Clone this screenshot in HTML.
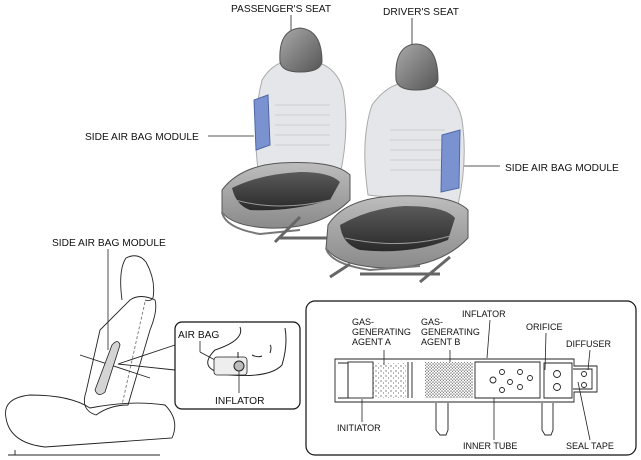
<!DOCTYPE html>
<html><head><style>
html,body{margin:0;padding:0;background:#fff;}
svg{display:block}
text{font-family:"Liberation Sans",sans-serif;font-size:10.2px;fill:#111}
text.s{font-size:9px}
</style></head><body>
<svg width="641" height="460" viewBox="0 0 641 460" xmlns="http://www.w3.org/2000/svg">
<defs>
<linearGradient id="dk" x1="0" y1="0" x2="0" y2="1"><stop offset="0" stop-color="#5a5a5a"/><stop offset="1" stop-color="#2a2a2a"/></linearGradient>
<linearGradient id="lt" x1="0" y1="0" x2="0" y2="1"><stop offset="0" stop-color="#bdbdbd"/><stop offset="1" stop-color="#8a8a8a"/></linearGradient>
<linearGradient id="hr" x1="0" y1="0" x2="1" y2="1"><stop offset="0" stop-color="#aaa"/><stop offset="1" stop-color="#555"/></linearGradient>
<pattern id="dots" width="5" height="5" patternUnits="userSpaceOnUse"><circle cx="1" cy="1" r=".6" fill="#333"/><circle cx="3.5" cy="3" r=".5" fill="#333"/></pattern>
<pattern id="dots2" width="3" height="3" patternUnits="userSpaceOnUse"><circle cx="1" cy="1" r=".6" fill="#222"/><circle cx="2.4" cy="2.2" r=".5" fill="#222"/></pattern>
</defs>
<text x="231" y="12">PASSENGER'S SEAT</text>
<line x1="291" y1="15" x2="291" y2="33" stroke="#222" stroke-width=".8"/>
<text x="383" y="15">DRIVER'S SEAT</text>
<line x1="412" y1="18" x2="412" y2="48" stroke="#222" stroke-width=".8"/>
<text x="85" y="140">SIDE AIR BAG MODULE</text>
<line x1="208" y1="136" x2="254" y2="136" stroke="#222" stroke-width=".8"/>
<text x="505" y="171">SIDE AIR BAG MODULE</text>
<line x1="460" y1="166" x2="500" y2="166" stroke="#222" stroke-width=".8"/>

<path d="M258 170 Q252 120 262 80 Q275 58 300 60 Q335 60 343 90 Q350 130 340 175 Z" fill="#e4e6ea" stroke="#aaa"/>
<g stroke="#c4c4c4" stroke-width=".7"><line x1="275" y1="105" x2="330" y2="105"/><line x1="275" y1="115" x2="330" y2="115"/><line x1="275" y1="125" x2="330" y2="125"/><line x1="275" y1="135" x2="330" y2="135"/><line x1="275" y1="145" x2="330" y2="145"/></g>
<path d="M280 62 Q278 30 300 28 Q322 30 322 62 Q320 72 300 72 Q282 72 280 62Z" fill="url(#hr)" stroke="#555"/>
<path d="M254 100 L268 95 L270 145 L256 150 Z" fill="#7a92cf" stroke="#4e67a8"/>
<path d="M222 190 Q240 166 280 163 Q335 160 350 175 L350 200 Q320 230 268 228 Q232 226 222 212 Z" fill="url(#lt)" stroke="#555"/>
<path d="M232 188 Q260 174 300 172 Q330 172 340 182 L330 200 Q290 212 250 210 Q236 205 232 188Z" fill="url(#dk)"/>
<path d="M235 200 Q280 212 330 200" stroke="#999" fill="none"/>
<path d="M222 212 Q225 228 260 234 L300 230" stroke="#777" fill="none" stroke-width="2"/>
<path d="M275 242 L300 217 M280 238 L330 238" stroke="#666" stroke-width="3"/>

<path d="M368 195 Q360 140 372 105 Q390 80 415 82 Q455 85 462 120 Q468 160 458 205 Z" fill="#e4e6ea" stroke="#aaa"/>
<g stroke="#c4c4c4" stroke-width=".7"><line x1="390" y1="130" x2="445" y2="130"/><line x1="390" y1="140" x2="445" y2="140"/><line x1="390" y1="150" x2="445" y2="150"/><line x1="390" y1="160" x2="445" y2="160"/><line x1="390" y1="170" x2="445" y2="170"/></g>
<path d="M396 80 Q394 45 416 44 Q438 45 438 80 Q436 90 416 90 Q398 90 396 80Z" fill="url(#hr)" stroke="#555"/>
<path d="M442 135 L460 130 L459 188 L441 192 Z" fill="#7a92cf" stroke="#4e67a8"/>
<path d="M328 225 Q345 198 395 196 Q452 194 468 210 L468 238 Q440 268 385 268 Q338 266 326 248 Z" fill="url(#lt)" stroke="#555"/>
<path d="M340 225 Q370 208 405 206 Q445 206 455 218 L448 240 Q410 255 360 250 Q342 244 340 225Z" fill="url(#dk)"/>
<path d="M345 238 Q400 250 450 236" stroke="#999" fill="none"/>
<path d="M326 248 Q330 264 370 270 L420 266" stroke="#777" fill="none" stroke-width="2"/>
<path d="M330 277 L350 264 M420 282 L450 257 M360 274 L440 274" stroke="#666" stroke-width="3"/>

<text x="52" y="246">SIDE AIR BAG MODULE</text>
<line x1="108" y1="249" x2="108" y2="350" stroke="#222" stroke-width=".8"/>
<g fill="none" stroke="#222" stroke-width=".9">
<path d="M122 300 Q118 270 126 258 Q138 252 146 262 Q156 280 153 298 Q150 302 145 300"/>
<path d="M130 300 Q140 293 155 300 Q158 310 150 330 L128 405 Q110 405 96 415 Q80 410 86 392 L100 330 Z"/>
<path d="M6 418 Q2 398 30 395 Q70 395 90 408 Q130 400 165 405 Q180 420 172 438 L45 447 Q10 443 6 418Z"/>
<path d="M8 455 L160 455 M15 450 L15 455"/>
<path d="M145 302 L122 405" stroke-dasharray="3 2" stroke="#777"/>
<path d="M80 355 L150 378 M118 364 L175 345 M118 364 L175 370"/>
</g>
<path d="M112 345 Q118 338 120 345 L105 392 Q98 398 95 390 Z" fill="#d4d4d4" stroke="#222" stroke-width=".8"/>

<rect x="175" y="322" width="125" height="87" rx="7" fill="#fff" stroke="#111" stroke-width="1.2"/>
<text x="178" y="338">AIR BAG</text>
<line x1="200" y1="341" x2="200" y2="352" stroke="#222" stroke-width=".8"/>
<path d="M200 352 L215 360" stroke="#222" stroke-width=".8"/>
<path d="M240 327 Q245 340 215 350 Q195 370 230 375 Q270 378 282 365 Q288 345 285 328" fill="none" stroke="#222"/>
<rect x="214" y="357" width="33" height="18" rx="3" fill="#eee" stroke="#222" stroke-width=".8"/>
<circle cx="239" cy="366" r="5" fill="#bbb" stroke="#222"/>
<path d="M238 358 L238 352 M252 355 Q258 358 262 356 M270 353 Q272 347 270 345" stroke="#222" fill="none"/>
<line x1="239" y1="371" x2="239" y2="393" stroke="#222" stroke-width=".8"/>
<text x="215" y="404">INFLATOR</text>

<rect x="306" y="301" width="330" height="154" rx="9" fill="#fff" stroke="#111" stroke-width="1.2"/>
<text class="s" x="352" y="325">GAS-</text><text class="s" x="352" y="335">GENERATING</text><text class="s" x="352" y="345">AGENT A</text>
<text class="s" x="421" y="325">GAS-</text><text class="s" x="421" y="335">GENERATING</text><text class="s" x="421" y="345">AGENT B</text>
<text class="s" x="462" y="317">INFLATOR</text>
<text class="s" x="526" y="330">ORIFICE</text>
<text class="s" x="566" y="347">DIFFUSER</text>
<text class="s" x="337" y="431">INITIATOR</text>
<text class="s" x="463" y="449">INNER TUBE</text>
<text class="s" x="566" y="449">SEAL TAPE</text>
<g fill="none" stroke="#222" stroke-width=".9">
<path d="M335 359 L574 359 L574 366 L597 366 L597 392 L574 392 L574 402 L335 402 Z"/>
<path d="M338 363 L348 363 L348 398 L338 398"/>
<rect x="348" y="362" width="25" height="36"/>
<path d="M408 362 L408 398 M412 362 L412 398"/>
<path d="M475 362 L540 362 L540 398 L475 398 Z"/>
<path d="M544 363 L572 363 L572 398 L544 398 Z"/>
<path d="M573 369 L592 369 L592 389 L573 389"/>
<path d="M436 403 L436 430 L440 435 L446 435 L448 430 L448 403"/>
<path d="M542 403 L542 430 L545 435 L551 435 L553 430 L553 403"/>
<circle cx="493" cy="380" r="3"/><circle cx="502" cy="372" r="2.5"/><circle cx="510" cy="382" r="2.5"/><circle cx="520" cy="372" r="2.5"/><circle cx="520" cy="387" r="2.5"/><circle cx="530" cy="378" r="2.5"/><circle cx="502" cy="390" r="2.5"/>
<circle cx="557" cy="374" r="3.5"/><circle cx="557" cy="387" r="3.5"/><circle cx="584" cy="374" r="2.5"/><circle cx="584" cy="385" r="2.5"/>
</g>
<rect x="373" y="363" width="33" height="35" fill="url(#dots)"/>
<rect x="425" y="362" width="48" height="36" fill="url(#dots2)"/>
<g stroke="#222" stroke-width=".8">
<line x1="362" y1="399" x2="362" y2="422"/>
<line x1="384" y1="350" x2="384" y2="365"/>
<line x1="450" y1="350" x2="450" y2="362"/>
<line x1="490" y1="320" x2="487" y2="358"/>
<line x1="546" y1="333" x2="545" y2="370"/>
<line x1="590" y1="350" x2="588" y2="370"/>
<line x1="494" y1="398" x2="494" y2="440"/>
<line x1="578" y1="382" x2="590" y2="440"/>
</g>
</svg>
</body></html>
